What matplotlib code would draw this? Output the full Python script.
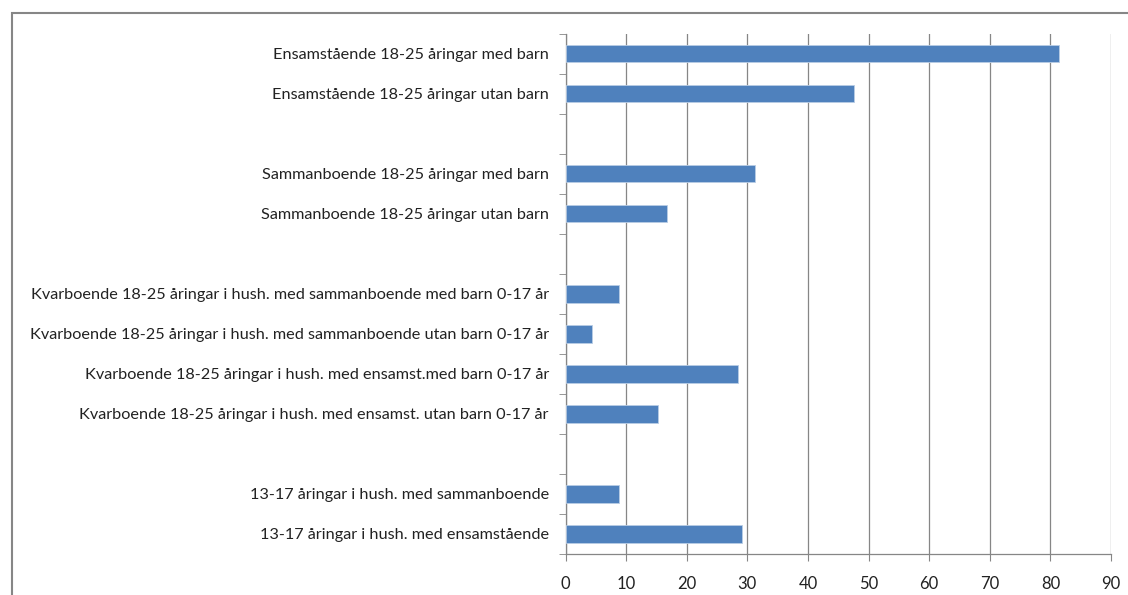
import matplotlib
matplotlib.use("Agg")
import matplotlib.pyplot as plt
from matplotlib.patches import Rectangle

# kategorier uppifrån och ned; tomma strängar = mellanrum
labels = [
    "Ensamstående 18-25 åringar med barn",
    "Ensamstående 18-25 åringar utan barn",
    "",
    "Sammanboende 18-25 åringar med barn",
    "Sammanboende 18-25 åringar utan barn",
    "",
    "Kvarboende 18-25 åringar i hush. med sammanboende med barn 0-17 år",
    "Kvarboende 18-25 åringar i hush. med sammanboende utan barn 0-17 år",
    "Kvarboende 18-25 åringar i hush. med ensamst.med barn 0-17 år",
    "Kvarboende 18-25 åringar i hush. med ensamst. utan barn 0-17 år",
    "",
    "13-17 åringar i hush. med sammanboende",
    "13-17 åringar i hush. med ensamstående",
]
values = [81.4, 47.6, None, 31.3, 16.7, None, 8.8, 4.3, 28.5, 15.3, None, 8.8, 29.2]
x_ticks = [0, 10, 20, 30, 40, 50, 60, 70, 80, 90]

plt.rcParams["font.family"] = ["Lato", "DejaVu Sans"]

n_slots = len(labels)
fig = plt.figure(figsize=(11.28, 5.95), dpi=100)
ax = fig.add_axes([565.5 / 1128, 1 - 554 / 595, (1111 - 565.5) / 1128, (554 - 33.5) / 595])

ypos = list(range(n_slots))
for y, v in zip(ypos, values):
    if v is not None:
        ax.barh(y, v, height=0.44, color="#4F81BD", edgecolor="#B9CDE5", linewidth=0.6, zorder=3)

ax.set_ylim(n_slots - 0.5, -0.5)
ax.set_xlim(0, 90)
ax.set_xticks(x_ticks)
ax.set_xticklabels([str(t) for t in x_ticks], fontsize=12, color="#222222")
ax.set_yticks(ypos)
ax.set_yticklabels(labels, fontsize=11.7, color="#222222")
ax.set_yticks([i - 0.5 for i in range(n_slots + 1)], minor=True)
ax.tick_params(axis="y", which="major", length=0, pad=12)
ax.tick_params(axis="y", which="minor", length=5, color="#868686", direction="out")
ax.tick_params(axis="x", length=5, color="#868686", direction="out", pad=11)

ax.grid(axis="x", color="#868686", linewidth=0.9, zorder=0)
for side in ("top", "right"):
    ax.spines[side].set_visible(False)
for side in ("left", "bottom"):
    ax.spines[side].set_color("#868686")
    ax.spines[side].set_linewidth(0.9)

# yttre ram (Excel-diagramområde)
fig.patches.append(Rectangle((12 / 1128, -0.05), 1.2, 1 - 13 / 595 + 0.05,
                             transform=fig.transFigure, fill=False,
                             edgecolor="#868686", linewidth=1.5))

fig.savefig("out.png", dpi=100)
